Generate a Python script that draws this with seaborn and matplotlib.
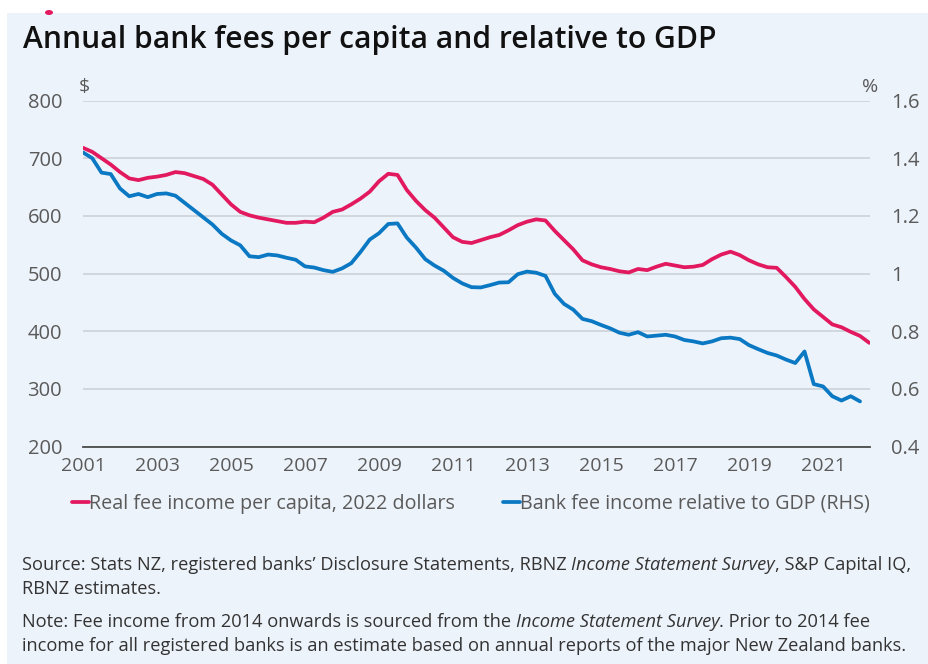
import numpy as np
import pandas as pd
import matplotlib
matplotlib.use("Agg")
import matplotlib.pyplot as plt
import seaborn as sns
from matplotlib.patches import Rectangle, Ellipse
from matplotlib.ticker import FuncFormatter, FixedLocator
from matplotlib.font_manager import FontProperties

# Quarterly series, starting 2001 Q1
fee_per_capita = [
    718, 711, 700, 689,   # 2001
    676, 665, 662, 666,   # 2002
    668, 671, 676, 674,   # 2003
    669, 664, 654, 637,   # 2004
    620, 607, 601, 597,   # 2005
    594, 591, 588, 588,   # 2006
    590, 589, 597, 607,   # 2007
    611, 620, 630, 642,   # 2008
    660, 673, 671, 645,   # 2009
    626, 610, 597, 580,   # 2010
    563, 555, 553, 558,   # 2011
    563, 567, 575, 584,   # 2012
    590, 594, 592, 574,   # 2013
    558, 542, 523, 516,   # 2014
    511, 508, 504, 502,   # 2015
    508, 506, 512, 517,   # 2016
    514, 511, 512, 515,   # 2017
    525, 533, 538, 532,   # 2018
    523, 516, 511, 510,   # 2019
    494, 477, 456, 438,   # 2020
    425, 412, 407, 399,   # 2021
    392, 380,             # 2022
]
fee_to_gdp = [
    1.420, 1.400, 1.350, 1.345,   # 2001
    1.295, 1.268, 1.276, 1.265,   # 2002
    1.276, 1.278, 1.270, 1.245,   # 2003
    1.220, 1.195, 1.170, 1.138,   # 2004
    1.115, 1.098, 1.060, 1.057,   # 2005
    1.066, 1.063, 1.055, 1.048,   # 2006
    1.025, 1.021, 1.012, 1.006,   # 2007
    1.018, 1.036, 1.075, 1.118,   # 2008
    1.140, 1.172, 1.174, 1.125,   # 2009
    1.090, 1.050, 1.028, 1.010,   # 2010
    0.985, 0.966, 0.953, 0.952,   # 2011
    0.960, 0.969, 0.970, 0.998,   # 2012
    1.007, 1.003, 0.992, 0.930,   # 2013
    0.895, 0.875, 0.843, 0.835,   # 2014
    0.822, 0.810, 0.795, 0.788,   # 2015
    0.797, 0.782, 0.785, 0.788,   # 2016
    0.782, 0.770, 0.765, 0.758,   # 2017
    0.765, 0.776, 0.778, 0.773,   # 2018
    0.752, 0.738, 0.725, 0.716,   # 2019
    0.702, 0.690, 0.730, 0.617,   # 2020
    0.609, 0.575, 0.560, 0.575,   # 2021
    0.557,                        # 2022
]

x_ticks = [2001, 2003, 2005, 2007, 2009, 2011, 2013, 2015, 2017, 2019, 2021]
left_ticks = [200, 300, 400, 500, 600, 700, 800]
right_ticks = [0.4, 0.6, 0.8, 1.0, 1.2, 1.4, 1.6]

title = "Annual bank fees per capita and relative to GDP"
pink_label = "Real fee income per capita, 2022 dollars"
blue_label = "Bank fee income relative to GDP (RHS)"
source_lines = [
    [("Source: Stats NZ, registered banks\u2019 Disclosure Statements, RBNZ ", "normal"),
     ("Income Statement Survey", "italic"),
     (", S&P Capital IQ,", "normal")],
    [("RBNZ estimates.", "normal")],
]
note_lines = [
    [("Note: Fee income from 2014 onwards is sourced from the ", "normal"),
     ("Income Statement Survey", "italic"),
     (". Prior to 2014 fee", "normal")],
    [("income for all registered banks is an estimate based on annual reports of the major New Zealand banks.", "normal")],
]

PINK = "#E2195F"
BLUE = "#0A78C2"
PANEL = "#EDF3FB"
GRID = "#D2D7DE"
TICK_TXT = "#5A5A5A"
BODY = "#333333"

W, H = 929, 664


def quarter_years(n):
    q = pd.period_range("2001Q1", periods=n, freq="Q")
    return np.asarray(q.year + (q.quarter - 1) / 4.0, dtype=float)


pink_df = pd.DataFrame({"year": quarter_years(len(fee_per_capita)), "value": fee_per_capita})
blue_df = pd.DataFrame({"year": quarter_years(len(fee_to_gdp)), "value": fee_to_gdp})

sns.set_theme(style="white")
plt.rcParams["font.family"] = ["Open Sans", "DejaVu Sans"]

fig = plt.figure(figsize=(W / 100, H / 100), dpi=100)
fig.patch.set_facecolor("white")
fig.patches.append(Rectangle((7 / W, 0), 1, 1 - 13 / H, transform=fig.transFigure,
                             facecolor=PANEL, edgecolor="none", zorder=-10))
fig.patches.append(Ellipse((49 / W, 1 - 12.5 / H), 8 / W, 5 / H, transform=fig.transFigure,
                           facecolor=PINK, edgecolor="none", zorder=5))

ax = fig.add_axes([83 / W, 217.3 / H, 787 / W, 346.2 / H])
ax2 = ax.twinx()

sns.lineplot(data=blue_df, x="year", y="value", ax=ax2, color=BLUE, linewidth=2.7,
             label=blue_label, legend=False)
sns.lineplot(data=pink_df, x="year", y="value", ax=ax, color=PINK, linewidth=2.7,
             label=pink_label, legend=False)

# pink series drawn above the blue one
ax.set_zorder(2)
ax2.set_zorder(1)
ax.patch.set_visible(False)
ax2.patch.set_visible(False)

ax.set_xlim(2001, 2022.27)
ax.set_ylim(200, 800)
ax2.set_ylim(0.4, 1.6)
ax.set_xlabel("")
ax.set_ylabel("")
ax2.set_ylabel("")

ax.xaxis.set_major_locator(FixedLocator(x_ticks))
ax.yaxis.set_major_locator(FixedLocator(left_ticks))
ax2.yaxis.set_major_locator(FixedLocator(right_ticks))
ax2.yaxis.set_major_formatter(FuncFormatter(lambda v, p: f"{v:g}"))

ax.grid(False)
ax2.grid(True, axis="y", color=GRID, linewidth=1.4)
ax2.set_axisbelow(True)

for s in ["left", "right", "top"]:
    ax.spines[s].set_visible(False)
for s in ax2.spines.values():
    s.set_visible(False)
ax.spines["bottom"].set_color("#4A4A4A")
ax.spines["bottom"].set_linewidth(1.3)

ax.tick_params(axis="x", direction="out", length=5.5, width=1.2, color="#4A4A4A",
               pad=2, labelsize=14, labelcolor=TICK_TXT)
ax.tick_params(axis="y", length=0, pad=15, labelsize=14.5, labelcolor=TICK_TXT)
ax2.tick_params(axis="y", length=0, pad=15, labelsize=14.5, labelcolor=TICK_TXT)

ax.annotate("$", xy=(0, 1), xycoords="axes fraction", xytext=(1, 3),
            textcoords="offset points", ha="center", va="bottom", fontsize=14, color=TICK_TXT)
ax.annotate("%", xy=(1, 1), xycoords="axes fraction", xytext=(0, 3),
            textcoords="offset points", ha="center", va="bottom", fontsize=14, color=TICK_TXT)

fig.text(23 / W, 1 - 48 / H, title, fontsize=21.6, family=["Open Sans", "DejaVu Sans"],
         fontweight="semibold", color="#111111", va="baseline")

handles = [ax.get_lines()[0], ax2.get_lines()[0]]
fig.legend(handles, [pink_label, blue_label], loc="center",
           bbox_to_anchor=(471 / W, 1 - 504 / H), ncol=2, frameon=False,
           handlelength=0.9, handletextpad=0.0, columnspacing=2.4,
           prop=FontProperties(family=["Open Sans", "DejaVu Sans"], size=14.2),
           labelcolor=TICK_TXT)

renderer = fig.canvas.get_renderer()


def rich_line(x_px, y_px, parts, size=13.15):
    x = x_px
    for txt, style in parts:
        t = fig.text(x / W, 1 - y_px / H, txt, fontsize=size, style=style,
                     color=BODY, va="baseline", ha="left")
        x += t.get_window_extent(renderer).width


for i, parts in enumerate(source_lines):
    rich_line(22, 570 + i * 24, parts)
for i, parts in enumerate(note_lines):
    rich_line(22, 627 + i * 24, parts)

fig.savefig("out.png", dpi=100, facecolor=fig.get_facecolor())
